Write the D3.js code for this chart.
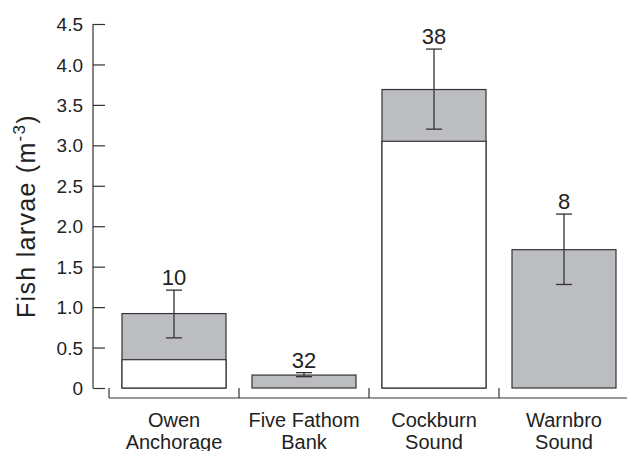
<!DOCTYPE html>
<html>
<head>
<meta charset="utf-8">
<script src="https://cdn.jsdelivr.net/npm/d3@7"></script>
<style>
  html, body { margin: 0; padding: 0; background: #fff; }
  svg { display: block; font-family: "Liberation Sans", Arial, Helvetica, sans-serif; }
</style>
</head>
<body>
<svg id="chart" width="627" height="451"></svg>
<script>
// Fish larvae density by site: white = lower component, grey = remainder up to the total
const sites = ["Owen Anchorage", "Five Fathom Bank", "Cockburn Sound", "Warnbro Sound"];
const siteLines = [["Owen", "Anchorage"], ["Five Fathom", "Bank"], ["Cockburn", "Sound"], ["Warnbro", "Sound"]];
const lowerPart = [0.35, 0, 3.05, 0];
const totals = [0.92, 0.16, 3.69, 1.71];
const errLow = [0.62, 0.14, 3.20, 1.28];
const errHigh = [1.21, 0.19, 4.19, 2.15];
const sampleN = ["10", "32", "38", "8"];
const yTicks = [0, 0.5, 1.0, 1.5, 2.0, 2.5, 3.0, 3.5, 4.0, 4.5];
const yTickLabels = ["0", "0.5", "1.0", "1.5", "2.0", "2.5", "3.0", "3.5", "4.0", "4.5"];

const svg = d3.select("#chart");
const ink = "#333";
const grey = "#bcbdc0";

const x = d3.scaleBand().domain(sites).range([109, 629]).paddingInner(0.2).paddingOuter(0.1);
const y = d3.scaleLinear().domain([0, 4.5]).range([388, 24]);

// y axis: ticks pointing inward, labels on the left
const yAxis = d3.axisRight(y).tickValues(yTicks).tickSize(12).tickFormat("");
const gy = svg.append("g").attr("transform", "translate(93,0)").call(yAxis);
gy.select(".domain").attr("d", `M0,${y(4.5)}V${y(0)}`);
gy.selectAll("line, path").attr("stroke", ink).attr("stroke-width", 1.2);
gy.selectAll(".tick").append("text")
  .attr("x", -10).attr("dy", "0.35em")
  .attr("text-anchor", "end")
  .attr("fill", "#222")
  .style("font-size", "19px")
  .text((d, i) => yTickLabels[i]);

// x axis: separate baseline with upward dividers between sites
const xEdges = sites.map(s => x(s) - x.step() * x.paddingInner() / 2);
xEdges.push(x(sites[sites.length - 1]) + x.bandwidth() + x.step() * x.paddingInner() / 2);
const gx = svg.append("g");
gx.append("line").attr("x1", xEdges[0]).attr("x2", 627).attr("y1", 398).attr("y2", 398)
  .attr("stroke", ink).attr("stroke-width", 1.2);
gx.selectAll("line.div").data(xEdges).join("line").attr("class", "div")
  .attr("x1", d => d).attr("x2", d => d).attr("y1", 398).attr("y2", 388)
  .attr("stroke", ink).attr("stroke-width", 1.2);
gx.selectAll("text.site").data(sites).join("text").attr("class", "site")
  .attr("x", d => x(d) + x.bandwidth() / 2)
  .attr("y", 427)
  .attr("text-anchor", "middle")
  .attr("fill", "#222")
  .style("font-size", "20px")
  .each(function(d, i) {
    const t = d3.select(this);
    siteLines[i].forEach((ln, j) => {
      t.append("tspan").attr("x", x(d) + x.bandwidth() / 2).attr("dy", j === 0 ? 0 : 21.5).text(ln);
    });
  });

// bars
const bars = svg.append("g");
bars.selectAll("rect.total").data(sites).join("rect").attr("class", "total")
  .attr("x", d => x(d)).attr("width", x.bandwidth())
  .attr("y", (d, i) => y(totals[i])).attr("height", (d, i) => y(0) - y(totals[i]))
  .attr("fill", grey).attr("stroke", ink).attr("stroke-width", 1.2);
bars.selectAll("rect.lower").data(sites.filter((d, i) => lowerPart[i] > 0)).join("rect").attr("class", "lower")
  .attr("x", d => x(d)).attr("width", x.bandwidth())
  .attr("y", d => y(lowerPart[sites.indexOf(d)]))
  .attr("height", d => y(0) - y(lowerPart[sites.indexOf(d)]))
  .attr("fill", "#fff").attr("stroke", ink).attr("stroke-width", 1.2);

// error bars
const cap = 8;
const eb = svg.append("g").attr("stroke", ink).attr("stroke-width", 1.3);
sites.forEach((s, i) => {
  const cx = x(s) + x.bandwidth() / 2;
  eb.append("line").attr("x1", cx).attr("x2", cx).attr("y1", y(errLow[i])).attr("y2", y(errHigh[i]));
  eb.append("line").attr("x1", cx - cap).attr("x2", cx + cap).attr("y1", y(errHigh[i])).attr("y2", y(errHigh[i]));
  eb.append("line").attr("x1", cx - cap).attr("x2", cx + cap).attr("y1", y(errLow[i])).attr("y2", y(errLow[i]));
});

// sample sizes above each error bar
svg.append("g").selectAll("text").data(sites).join("text")
  .attr("x", d => x(d) + x.bandwidth() / 2)
  .attr("y", (d, i) => y(errHigh[i]) - 5)
  .attr("text-anchor", "middle")
  .attr("fill", "#222")
  .style("font-size", "22px")
  .text((d, i) => sampleN[i]);

// y axis title
const title = svg.append("text")
  .attr("transform", "translate(35,216) rotate(-90)")
  .attr("text-anchor", "middle")
  .attr("fill", "#222")
  .style("font-size", "25px")
  .style("letter-spacing", "1.3px");
title.append("tspan").text("Fish larvae (m");
title.append("tspan").attr("dy", -10).style("font-size", "17px").text("-3");
title.append("tspan").attr("dy", 10).text(")");
</script>
</body>
</html>
